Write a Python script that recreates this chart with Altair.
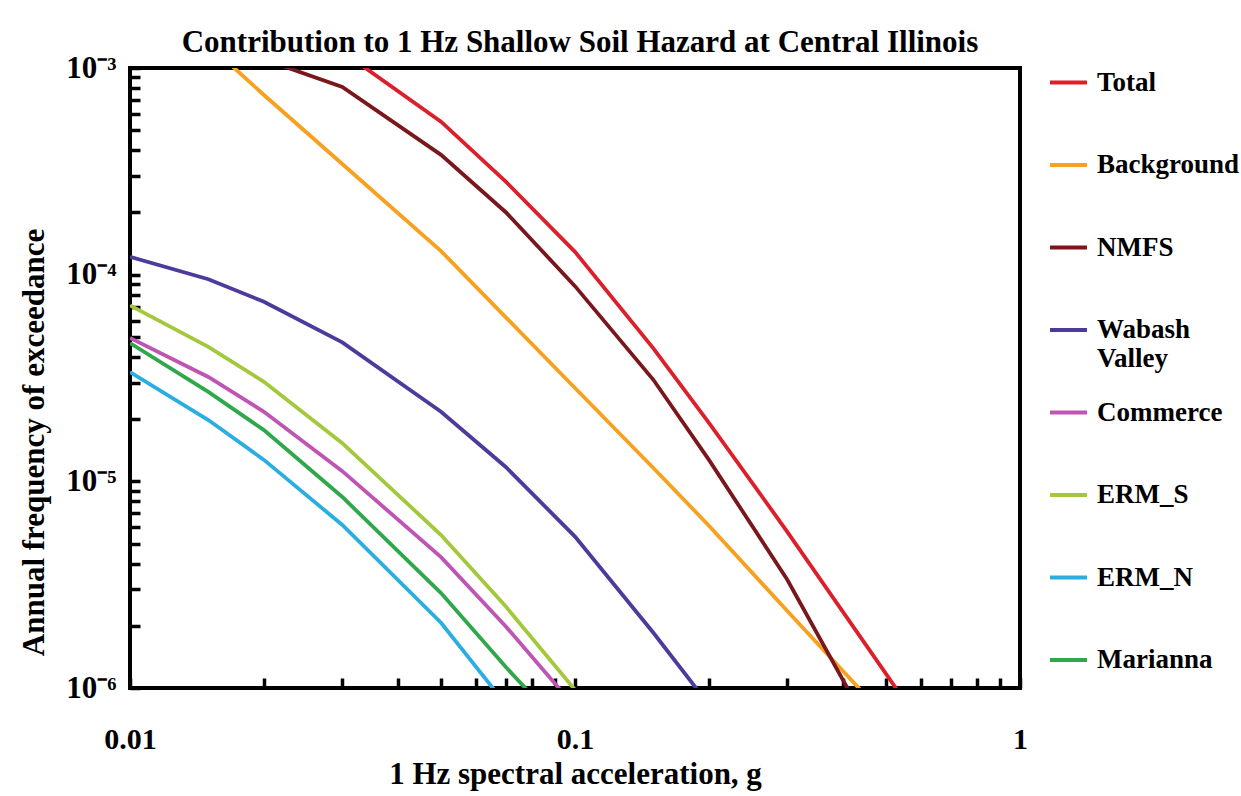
import altair as alt
import pandas as pd

# ---------------- data ----------------
series_names = ["Total", "Background", "NMFS", "Wabash Valley", "Commerce",
                "ERM_S", "ERM_N", "Marianna"]
series_colors = ["#DC1F2B", "#F7A11E", "#7A171D", "#4E3A9C", "#BE55B4",
                 "#A3C83C", "#2AAEE2", "#2EA84A"]

total_x = [0.03, 0.05, 0.07, 0.1, 0.15, 0.2, 0.3, 0.5, 0.7]
total_y = [1.2e-3, 5.5e-4, 2.81e-4, 1.29e-4, 4.4e-5, 1.92e-5, 5.7e-6, 1.17e-6, 4.1e-7]

background_x = [0.015, 0.02, 0.03, 0.05, 0.07, 0.1, 0.15, 0.2, 0.3, 0.5]
background_y = [1.3e-3, 7.4e-4, 3.43e-4, 1.30e-4, 6.2e-5, 2.83e-5, 1.16e-5, 6.1e-6, 2.36e-6, 7.2e-7]

nmfs_x = [0.02, 0.03, 0.05, 0.07, 0.1, 0.15, 0.2, 0.3, 0.5]
nmfs_y = [1.1e-3, 8.1e-4, 3.8e-4, 2.0e-4, 8.8e-5, 3.1e-5, 1.27e-5, 3.34e-6, 4.6e-7]

wabash_x = [0.01, 0.015, 0.02, 0.03, 0.05, 0.07, 0.1, 0.15, 0.2]
wabash_y = [1.22e-4, 9.5e-5, 7.4e-5, 4.7e-5, 2.17e-5, 1.17e-5, 5.4e-6, 1.85e-6, 8.3e-7]

commerce_x = [0.01, 0.015, 0.02, 0.03, 0.05, 0.07, 0.1]
commerce_y = [4.94e-5, 3.2e-5, 2.17e-5, 1.12e-5, 4.3e-6, 1.98e-6, 8.1e-7]

erms_x = [0.01, 0.015, 0.02, 0.03, 0.05, 0.07, 0.1]
erms_y = [7.1e-5, 4.47e-5, 3.03e-5, 1.53e-5, 5.5e-6, 2.47e-6, 9.8e-7]

ermn_x = [0.01, 0.015, 0.02, 0.03, 0.05, 0.07]
ermn_y = [3.38e-5, 1.98e-5, 1.27e-5, 6.15e-6, 2.07e-6, 8.3e-7]

marianna_x = [0.01, 0.015, 0.02, 0.03, 0.05, 0.07, 0.1]
marianna_y = [4.67e-5, 2.71e-5, 1.77e-5, 8.4e-6, 2.88e-6, 1.26e-6, 5.5e-7]

x_label_values = [0.01, 0.1, 1]
y_label_values = [1e-6, 1e-5, 1e-4, 1e-3]
x_tick_values = [0.01, 0.02, 0.03, 0.04, 0.05, 0.06, 0.07, 0.08, 0.09,
                 0.1, 0.2, 0.3, 0.4, 0.5, 0.6, 0.7, 0.8, 0.9, 1]
y_tick_values = [1e-6, 2e-6, 3e-6, 4e-6, 5e-6, 6e-6, 7e-6, 8e-6, 9e-6,
                 1e-5, 2e-5, 3e-5, 4e-5, 5e-5, 6e-5, 7e-5, 8e-5, 9e-5,
                 1e-4, 2e-4, 3e-4, 4e-4, 5e-4, 6e-4, 7e-4, 8e-4, 9e-4, 1e-3]

all_x = [total_x, background_x, nmfs_x, wabash_x, commerce_x, erms_x, ermn_x, marianna_x]
all_y = [total_y, background_y, nmfs_y, wabash_y, commerce_y, erms_y, ermn_y, marianna_y]

rows = []
for name, xs, ys in zip(series_names, all_x, all_y):
    for i, (xv, yv) in enumerate(zip(xs, ys)):
        rows.append({"source": name, "sa": xv, "afe": yv, "idx": i})
df = pd.DataFrame(rows)

FONT = "Liberation Serif"

xscale = alt.Scale(type="log", domain=[0.01, 1], nice=False)
yscale = alt.Scale(type="log", domain=[1e-6, 1e-3], nice=False)

y_label_expr = ("round(log(datum.value)/LN10) == -3 ? '10⁻³' : "
                "round(log(datum.value)/LN10) == -4 ? '10⁻⁴' : "
                "round(log(datum.value)/LN10) == -5 ? '10⁻⁵' : '10⁻⁶'")
x_label_expr = "datum.value < 0.05 ? '0.01' : (datum.value < 0.5 ? '0.1' : '1')"

lines = alt.Chart(df).mark_line(strokeWidth=3.8, clip=True).encode(
    x=alt.X("sa:Q", scale=xscale,
            axis=alt.Axis(orient="bottom", values=x_label_values, labelExpr=x_label_expr,
                          ticks=False, tickSize=0, domain=False, grid=False,
                          labelFont=FONT, labelFontSize=30, labelFontWeight="bold",
                          labelColor="black", labelBaseline="alphabetic", labelPadding=60,
                          labelFlush=False, labelOverlap=False,
                          title="1 Hz spectral acceleration, g", titleFont=FONT,
                          titleFontSize=31, titleFontWeight="bold", titleColor="black",
                          titleBaseline="alphabetic", titleY=95)),
    y=alt.Y("afe:Q", scale=yscale,
            axis=alt.Axis(orient="left", values=y_label_values, labelExpr=y_label_expr,
                          ticks=False, tickSize=0, domain=False, grid=False,
                          labelFont=FONT, labelFontSize=31, labelFontWeight="bold",
                          labelColor="black", labelBaseline="middle", labelAlign="right",
                          labelPadding=14, labelFlush=False, labelOverlap=False,
                          title="Annual frequency of exceedance", titleFont=FONT,
                          titleFontSize=31, titleFontWeight="bold", titleColor="black",
                          titleAngle=270, titleAlign="center", titleBaseline="alphabetic",
                          titleX=-87, titleY=374)),
    color=alt.Color("source:N",
                    scale=alt.Scale(domain=series_names, range=series_colors),
                    legend=alt.Legend(title=None, orient="none", legendX=918, legendY=-6,
                                      symbolType="stroke", symbolSize=1369,
                                      symbolStrokeWidth=4, labelFont=FONT,
                                      labelFontSize=27, labelFontWeight="bold",
                                      labelColor="black", labelOffset=8, rowPadding=19.5,
                                      gridAlign="all", labelLimit=300,
                                      labelExpr="datum.label == 'Wabash Valley' ? ['Wabash', 'Valley'] : datum.label")),
    order="idx:Q",
)

ticks = alt.Chart(df).mark_line(strokeOpacity=0, clip=True).encode(
    x=alt.X("sa:Q", scale=xscale,
            axis=alt.Axis(orient="top", offset=-620, values=x_tick_values, labels=False,
                          ticks=True, tickSize=10, tickWidth=3.5, tickColor="black",
                          domain=False, grid=False, title=None)),
    y=alt.Y("afe:Q", scale=yscale,
            axis=alt.Axis(orient="right", offset=-890, values=y_tick_values, labels=False,
                          ticks=True, tickSize=10, tickWidth=3.5, tickColor="black",
                          domain=False, grid=False, title=None)),
    detail="source:N",
)

chart = alt.layer(lines, ticks).resolve_axis(x="independent", y="independent").properties(
    width=890, height=620,
    autosize=alt.AutoSizeParams(type="none"),
    padding={"left": 130, "top": 68, "right": 221, "bottom": 108},
    background="white",
    title=alt.TitleParams(
        "Contribution to 1 Hz Shallow Soil Hazard at Central Illinois",
        font=FONT, fontSize=31, fontWeight="bold", color="black",
        anchor="middle", frame="group", offset=10, baseline="alphabetic", dx=5, dy=41),
).configure_view(stroke="black", strokeWidth=4)

chart.save("out.html", embed_options={"renderer": "svg", "actions": False})
